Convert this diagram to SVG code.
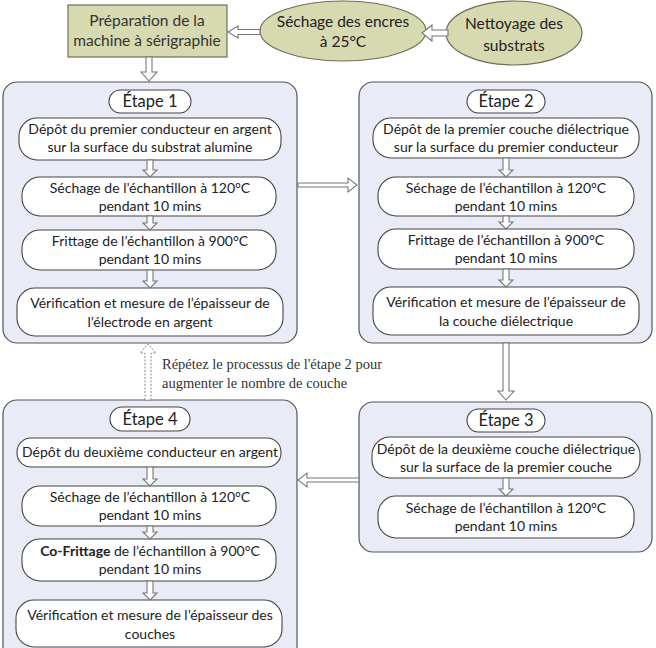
<svg xmlns="http://www.w3.org/2000/svg" width="656" height="648" viewBox="0 0 656 648">
<defs>
<style>
.t{font-family:Lato,"Liberation Sans",sans-serif;font-size:14px;fill:#222;text-anchor:middle}
.lbl{font-family:Lato,"Liberation Sans",sans-serif;font-size:16.5px;fill:#222;text-anchor:middle}
.el{font-family:Lato,"Liberation Sans",sans-serif;font-size:15.5px;fill:#222;text-anchor:middle}
.top{font-family:Lato,"Liberation Sans",sans-serif;font-size:15.5px;fill:#333;text-anchor:middle}
.ser{font-family:"Liberation Serif",serif;font-size:14.5px;fill:#333}
.cont{fill:#e9ecf6;stroke:#555;stroke-width:1.2}
.box{fill:#fff;stroke:#444;stroke-width:1.1}
.olive{fill:#d7d9b1;stroke:#6f6f55;stroke-width:1.2}
.arr{fill:#fff;stroke:#777;stroke-width:1.1}
.dash{fill:#fff;stroke:#888;stroke-width:1;stroke-dasharray:2 1.5}
</style>
</defs>

<g id="prep">
<rect class="olive" x="68" y="5" width="159" height="52"/>
<text class="top" x="147" y="26">Préparation de la</text>
<text class="top" x="147" y="46">machine à sérigraphie</text>
</g>
<g id="sechage-encres">
<ellipse class="olive" cx="343" cy="31" rx="83" ry="30"/>
<text class="el" x="343" y="27">Séchage des encres</text>
<text class="el" x="343" y="47">à 25°C</text>
</g>
<g id="nettoyage">
<ellipse class="olive" cx="514" cy="33" rx="68" ry="32"/>
<text class="el" x="514" y="29">Nettoyage des</text>
<text class="el" x="514" y="51">substrats</text>
</g>
<text class="ser" x="162" y="369">Répétez le processus de l'étape 2 pour</text>
<text class="ser" x="162" y="388">augmenter le nombre de couche</text>

<g id="etape1">
<rect class="cont" x="3" y="82" width="294" height="261" rx="14"/>
<rect class="box" x="109" y="90" width="82" height="23" rx="11.5"/>
<text class="lbl" x="150" y="107">Étape 1</text>
<rect class="box" x="19" y="118" width="262" height="42" rx="18"/>
<text class="t" x="150" y="134">Dépôt du premier conducteur en argent</text>
<text class="t" x="150" y="152">sur la surface du substrat alumine</text>
<rect class="box" x="22" y="177" width="254" height="39" rx="18"/>
<text class="t" x="150" y="193">Séchage de l’échantillon à 120°C</text>
<text class="t" x="150" y="211">pendant 10 mins</text>
<rect class="box" x="22" y="230" width="254" height="40" rx="18"/>
<text class="t" x="150" y="246">Frittage de l’échantillon à 900°C</text>
<text class="t" x="150" y="264">pendant 10 mins</text>
<rect class="box" x="17" y="288" width="266" height="48" rx="18"/>
<text class="t" x="150" y="308">Vérification et mesure de l’épaisseur de</text>
<text class="t" x="150" y="327">l’électrode en argent</text>
</g>

<g id="etape2">
<rect class="cont" x="359" y="82" width="293" height="261" rx="14"/>
<rect class="box" x="467" y="90" width="78" height="23" rx="11.5"/>
<text class="lbl" x="506" y="107">Étape 2</text>
<rect class="box" x="373" y="118" width="266" height="40" rx="18"/>
<text class="t" x="506" y="134">Dépôt de la premier couche diélectrique</text>
<text class="t" x="506" y="152">sur la surface du premier conducteur</text>
<rect class="box" x="378" y="177" width="256" height="39" rx="18"/>
<text class="t" x="506" y="193">Séchage de l’échantillon à 120°C</text>
<text class="t" x="506" y="211">pendant 10 mins</text>
<rect class="box" x="378" y="229" width="256" height="40" rx="18"/>
<text class="t" x="506" y="245">Frittage de l’échantillon à 900°C</text>
<text class="t" x="506" y="263">pendant 10 mins</text>
<rect class="box" x="373" y="287" width="266" height="48" rx="18"/>
<text class="t" x="506" y="307">Vérification et mesure de l’épaisseur de</text>
<text class="t" x="506" y="326">la couche diélectrique</text>
</g>

<g id="etape3">
<rect class="cont" x="359" y="402" width="293" height="150" rx="14"/>
<rect class="box" x="467" y="409" width="78" height="23" rx="11.5"/>
<text class="lbl" x="506" y="426">Étape 3</text>
<rect class="box" x="372" y="437" width="268" height="41" rx="18"/>
<text class="t" x="506" y="454">Dépôt de la deuxième couche diélectrique</text>
<text class="t" x="506" y="472">sur la surface de la premier couche</text>
<rect class="box" x="378" y="496" width="256" height="42" rx="18"/>
<text class="t" x="506" y="513">Séchage de l’échantillon à 120°C</text>
<text class="t" x="506" y="531">pendant 10 mins</text>
</g>

<g id="etape4">
<rect class="cont" x="3" y="400" width="294" height="262" rx="14"/>
<rect class="box" x="110" y="407" width="80" height="24" rx="12"/>
<text class="lbl" x="150" y="425">Étape 4</text>
<rect class="box" x="17" y="438" width="264" height="29" rx="14"/>
<text class="t" x="150" y="457">Dépôt du deuxième conducteur en argent</text>
<rect class="box" x="22" y="486" width="254" height="40" rx="18"/>
<text class="t" x="150" y="502">Séchage de l’échantillon à 120°C</text>
<text class="t" x="150" y="520">pendant 10 mins</text>
<rect class="box" x="22" y="539" width="254" height="42" rx="18"/>
<text class="t" x="150" y="556"><tspan font-weight="bold">Co-Frittage</tspan> de l’échantillon à 900°C</text>
<text class="t" x="150" y="574">pendant 10 mins</text>
<rect class="box" x="16" y="600" width="266" height="47" rx="18"/>
<text class="t" x="150" y="620">Vérification et mesure de l’épaisseur des</text>
<text class="t" x="150" y="639">couches</text>
</g>

<g id="connectors">
<path class="arr" d="M448,30 H432 V25 L422,33 L432,41 V36 H448 Z"/>
<path class="arr" d="M260,29.5 H238 V26 L228,32 L238,38 V34.5 H260 Z"/>
<path class="arr" d="M146,57 H152 V72 H157 L149,81 L141,72 H146 Z"/>
<path class="arr" d="M298,183 H348 V178 L357,185 L348,192 V187 H298 Z"/>
<path class="arr" d="M503,343 H509 V391 H514 L506,400 L498,391 H503 Z"/>
<path class="arr" d="M359,478 H307 V473 L298,480 L307,487 V482 H359 Z"/>
<path class="dash" d="M145,400 V353 H140 L148,344 L156,353 H151 V400 Z"/>
<path class="arr" d="M147,160 H153 V170 H157 L150,177 L143,170 H147 Z"/>
<path class="arr" d="M147,216 H153 V223 H157 L150,230 L143,223 H147 Z"/>
<path class="arr" d="M147,270 H153 V281 H157 L150,288 L143,281 H147 Z"/>
<path class="arr" d="M503,158 H509 V170 H513 L506,177 L499,170 H503 Z"/>
<path class="arr" d="M503,216 H509 V222 H513 L506,229 L499,222 H503 Z"/>
<path class="arr" d="M503,269 H509 V280 H513 L506,287 L499,280 H503 Z"/>
<path class="arr" d="M503,478 H509 V489 H513 L506,496 L499,489 H503 Z"/>
<path class="arr" d="M147,467 H153 V479 H157 L150,486 L143,479 H147 Z"/>
<path class="arr" d="M147,526 H153 V532 H157 L150,539 L143,532 H147 Z"/>
<path class="arr" d="M147,581 H153 V593 H157 L150,600 L143,593 H147 Z"/>
</g>
</svg>
